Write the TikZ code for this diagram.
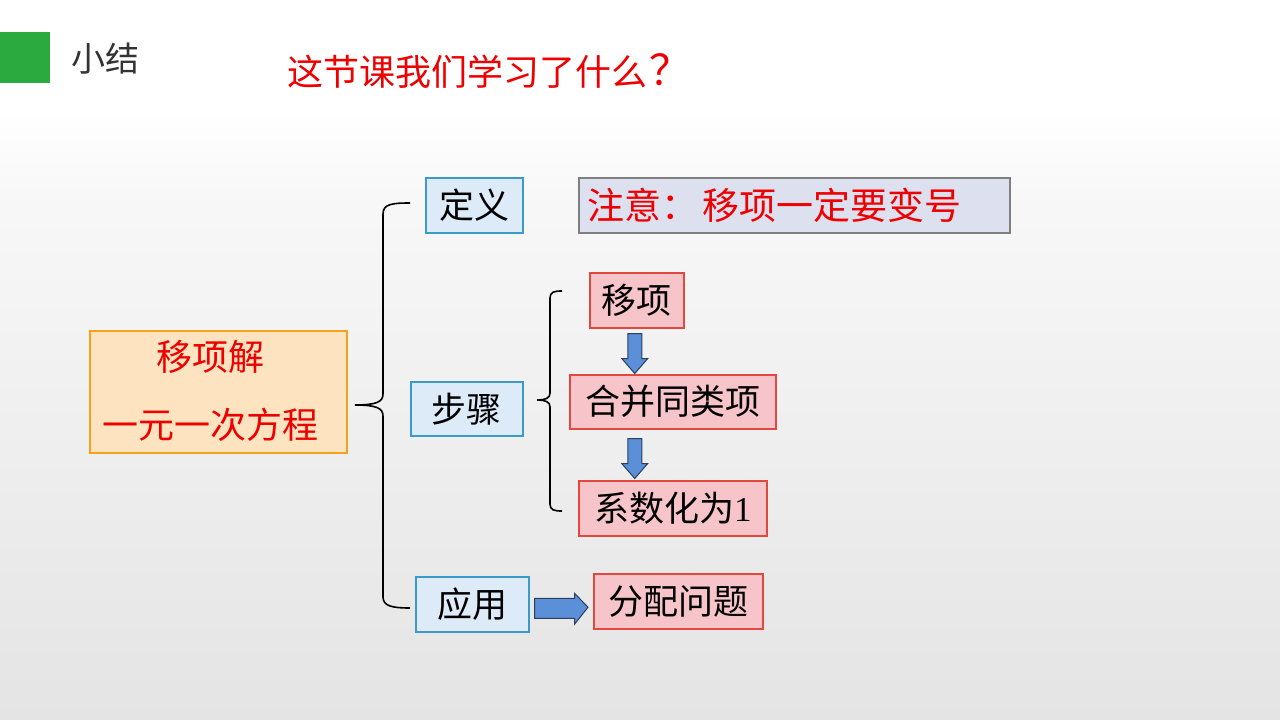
\documentclass[tikz,border=0pt]{standalone}
\usepackage{fontspec}
\newfontfamily\cjk{Noto Sans CJK SC}
\newfontfamily\serifnum{Liberation Serif}
\usetikzlibrary{calc}
\definecolor{bgbot}{HTML}{E4E4E4}
\definecolor{grn}{HTML}{2BAA3F}
\definecolor{bluefill}{HTML}{DDEAF8}
\definecolor{blueedge}{HTML}{3A9BCB}
\definecolor{lavfill}{HTML}{DDE0EF}
\definecolor{grayedge}{HTML}{7F7F7F}
\definecolor{orfill}{HTML}{FDE3BF}
\definecolor{oredge}{HTML}{F4A21E}
\definecolor{pinkfill}{HTML}{F7C5C9}
\definecolor{pinkedge}{HTML}{E2483E}
\definecolor{arrfill}{HTML}{5B8FD8}
\definecolor{arredge}{HTML}{2A3F5F}
\definecolor{redtxt}{HTML}{EE0000}
\tikzset{
  x=1pt,y=-1pt,
  box/.style={draw, line width=1.5pt, inner sep=0pt, anchor=north west, font=\cjk\fontsize{35}{42}\selectfont},
  bluebox/.style={box, fill=bluefill, draw=blueedge},
  pinkbox/.style={box, fill=pinkfill, draw=pinkedge},
  brace/.style={draw=black, line width=1.6pt},
  blockarrow/.style={fill=arrfill, draw=arredge, line width=1pt, line join=miter},
}
\begin{document}
\begin{tikzpicture}
\useasboundingbox (0,0) rectangle (1280,720);
\shade[top color=white, bottom color=bgbot] (0,0) rectangle (1280,720);
\fill[white] (0,0) rectangle (1280,110);
\shade[top color=white, bottom color=white!97!black] (0,110) rectangle (1280,200);
% header
\fill[grn] (0,32) rectangle (50,83);
\node[anchor=west, text=black!80, font=\cjk\fontsize{34}{40}\selectfont, inner sep=0pt] (hdr) at (71,59) {小结};
\node[anchor=west, text=redtxt, font=\cjk\fontsize{36}{42}\selectfont, inner sep=0pt] (title) at (287,71) {这节课我们学习了什么\makebox[1.3em][c]{\fontsize{42}{42}\selectfont ？}};
% boxes
\node[bluebox, minimum width=97, minimum height=55] (def) at (425,177) {定义};
\node[box, fill=lavfill, draw=grayedge, minimum width=431, minimum height=55, text=redtxt, text width=431, align=left, font=\cjk\fontsize{37}{42}\selectfont] (note) at (578,177) {\hspace*{9pt}注意\makebox[1.1em][l]{：}移项一定要变号};
\node[box, fill=orfill, draw=oredge, minimum width=257, minimum height=122] (main) at (89,330) {};
\node[text=redtxt, font=\cjk\fontsize{36}{42}\selectfont] (m1) at (210,357) {移项解};
\node[text=redtxt, font=\cjk\fontsize{36}{42}\selectfont] (m2) at (210,425) {一元一次方程};
\node[bluebox, minimum width=112, minimum height=54] (step) at (410,381) {步骤};
\node[pinkbox, minimum width=94, minimum height=55] (s1) at (589,272) {移项};
\node[pinkbox, minimum width=206, minimum height=54] (s2) at (569,374) {合并同类项};
\node[pinkbox, minimum width=188, minimum height=55] (s3) at (578,480) {系数化为{\serifnum 1}};
\node[bluebox, minimum width=113, minimum height=55] (app) at (415,576) {应用};
\node[pinkbox, minimum width=169, minimum height=55] (dist) at (593,573) {分配问题};
% big brace
\coordinate (bbTop) at (410,203);
\coordinate (bbBot) at (410,608);
\coordinate (bbMid) at (355,405);
\draw[brace] (bbTop) .. controls (392,203) and (383,204) .. (383,214) -- (383,394)
  .. controls (383,402) and (376,405) .. (bbMid)
  .. controls (376,405) and (383,408) .. (383,416) -- (383,597)
  .. controls (383,606) and (392,608) .. (bbBot);
% small brace
\coordinate (sbTop) at (562,291);
\coordinate (sbBot) at (562,511);
\coordinate (sbMid) at (537,400);
\draw[brace] (sbTop) .. controls (554,291) and (550,292) .. (550,298) -- (550,393)
  .. controls (550,398) and (546,400) .. (sbMid)
  .. controls (546,400) and (550,402) .. (550,407) -- (550,504)
  .. controls (550,510) and (554,511) .. (sbBot);
% block arrows (down arrows aligned under s1)
\coordinate (a1) at ($(s1.south)+(-2,5)$);
\coordinate (a2) at ($(s1.south)+(-2,110)$);
\draw[blockarrow] ($(a1)+(-7,0)$) -- ++(14,0) -- ++(0,25) -- ++(6,0) -- ($(a1)+(0,40)$) -- ($(a1)+(-13,25)$) -- ++(6,0) -- cycle;
\draw[blockarrow] ($(a2)+(-7,0)$) -- ++(14,0) -- ++(0,25) -- ++(6,0) -- ($(a2)+(0,40)$) -- ($(a2)+(-13,25)$) -- ++(6,0) -- cycle;
\draw[blockarrow] ($(app.east)+(5,-6)$) -- ++(40,0) -- ++(0,-5) -- ($(dist.west)+(-5,6)$) -- ($(app.east)+(45,20)$) -- ++(0,-6) -- ++(-40,0) -- cycle;
\end{tikzpicture}
\end{document}
